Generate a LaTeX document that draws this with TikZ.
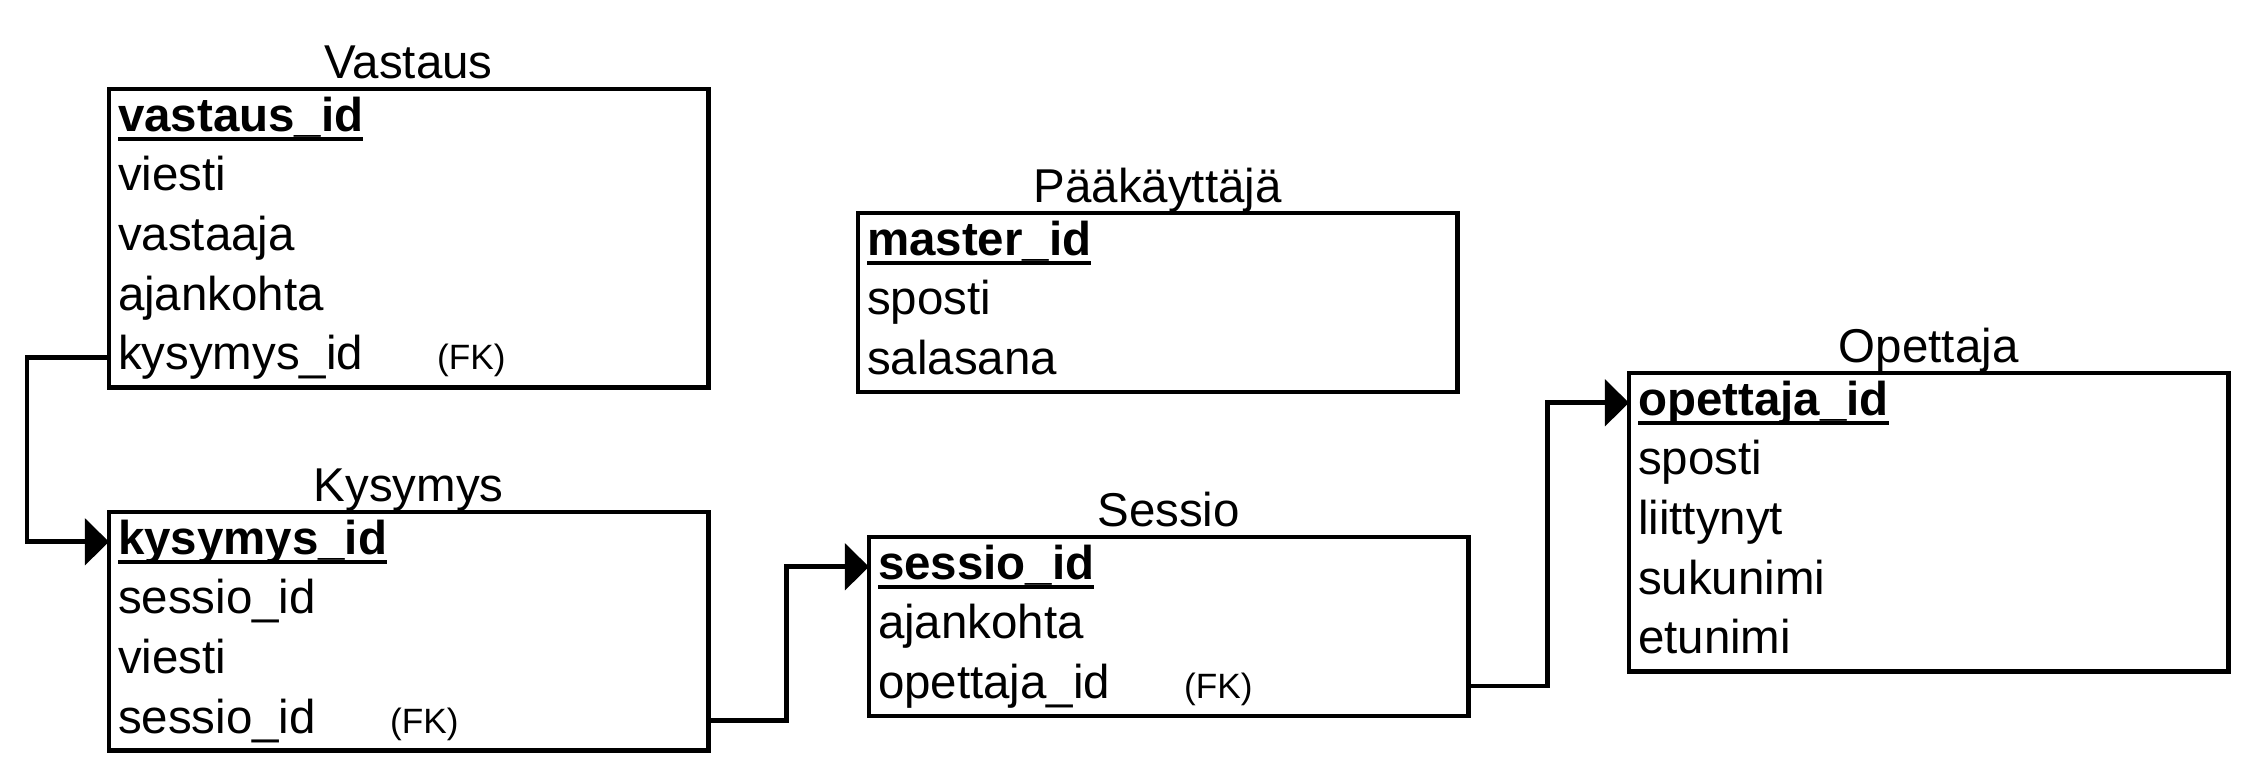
\documentclass[tikz,border=0pt]{standalone}
\usepackage{fontspec}
\setmainfont{Liberation Sans}
\usetikzlibrary{positioning,arrows.meta}

\newcommand{\pkey}[1]{\sbox0{\bfseries #1}\usebox0\llap{\rule[-0.095cm]{\wd0}{0.04cm}}}
\newcommand{\fkey}[2]{\makebox[#1][l]{#2}{\fontsize{10}{12}\selectfont (FK)}}

\begin{document}
\begin{tikzpicture}[x=0.01cm,y=-0.01cm,every node/.style={font=\fontsize{13.5}{16}\selectfont},
		row/.style={inner xsep=0.09cm,inner ysep=0pt,outer sep=0pt,text width=5.81cm,align=left,minimum height=0.596cm,text height=0.34cm,text depth=0.09cm},
		tablebox/.style={draw,line width=1.35pt},
		tabletitle/.style={anchor=base},
		fklink/.style={line width=1.35pt,-{Triangle[length=0.24cm,width=0.46cm]}}]
	\useasboundingbox (0,0) rectangle (2256,780);
	% Vastaus
	\node[row,anchor=north west] (v1) at (109,89) {\pkey{vastaus\_id}};
	\node[row,below=0pt of v1] (v2) {viesti};
	\node[row,below=0pt of v2] (v3) {vastaaja};
	\node[row,below=0pt of v3] (v4) {ajankohta};
	\node[row,below=0pt of v4] (v5) {\fkey{3.19cm}{kysymys\_id}};
	\draw[tablebox] (v1.north west) rectangle (v5.south east);
	\node[tabletitle] (vastaus) at ([yshift=0.1cm]v1.north) {Vastaus};
	% Paakayttaja
	\node[row,anchor=north west] (p1) at (858,213) {\pkey{master\_id}};
	\node[row,below=0pt of p1] (p2) {sposti};
	\node[row,below=0pt of p2] (p3) {salasana};
	\draw[tablebox] (p1.north west) rectangle (p3.south east);
	\node[tabletitle] (paakayttaja) at ([yshift=0.1cm]p1.north) {Pääkäyttäjä};
	% Opettaja
	\node[row,anchor=north west] (o1) at (1629,373) {\pkey{opettaja\_id}};
	\node[row,below=0pt of o1] (o2) {sposti};
	\node[row,below=0pt of o2] (o3) {liittynyt};
	\node[row,below=0pt of o3] (o4) {sukunimi};
	\node[row,below=0pt of o4] (o5) {etunimi};
	\draw[tablebox] (o1.north west) rectangle (o5.south east);
	\node[tabletitle] (opettaja) at ([yshift=0.1cm]o1.north) {Opettaja};
	% Kysymys
	\node[row,anchor=north west] (k1) at (109,512) {\pkey{kysymys\_id}};
	\node[row,below=0pt of k1] (k2) {sessio\_id};
	\node[row,below=0pt of k2] (k3) {viesti};
	\node[row,below=0pt of k3] (k4) {\fkey{2.72cm}{sessio\_id}};
	\draw[tablebox] (k1.north west) rectangle (k4.south east);
	\node[tabletitle] (kysymys) at ([yshift=0.1cm]k1.north) {Kysymys};
	% Sessio
	\node[row,anchor=north west] (s1) at (869,537) {\pkey{sessio\_id}};
	\node[row,below=0pt of s1] (s2) {ajankohta};
	\node[row,below=0pt of s2] (s3) {\fkey{3.06cm}{opettaja\_id}};
	\draw[tablebox] (s1.north west) rectangle (s3.south east);
	\node[tabletitle] (sessio) at ([yshift=0.1cm]s1.north) {Sessio};
	% viiteavaimet
	\draw[fklink] (v5.west) -- ++(-82,0) |- (k1.west);
	\draw[fklink] (k4.east) -- ++(78,0) |- (s1.west);
	\draw[fklink] (s3.east) -- ++(79,0) |- (o1.west);
\end{tikzpicture}
\end{document}
